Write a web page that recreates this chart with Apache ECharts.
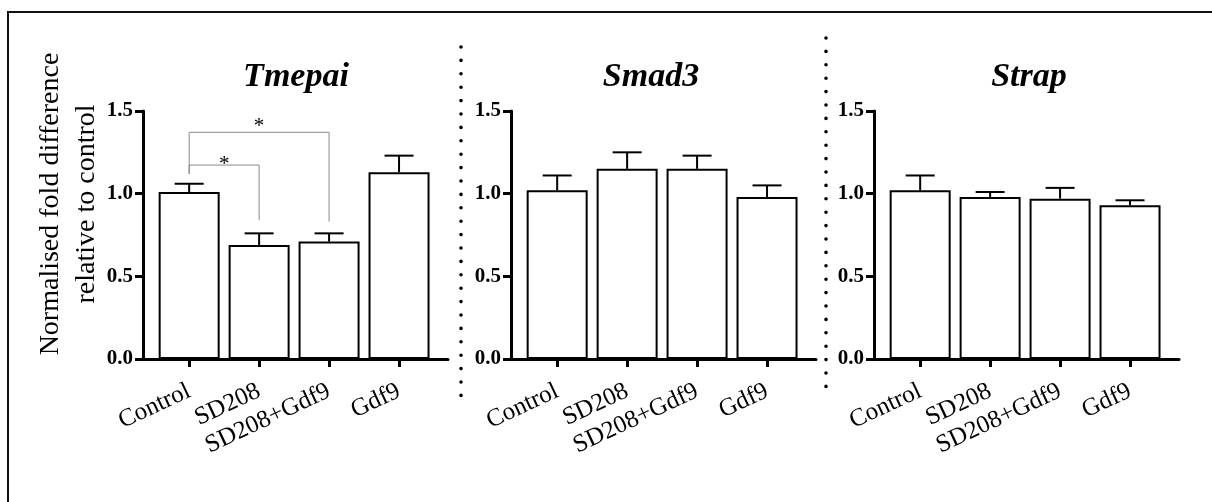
<!DOCTYPE html>
<html>
<head>
<meta charset="utf-8">
<title>Tmepai / Smad3 / Strap expression</title>
<script src="https://cdn.jsdelivr.net/npm/echarts@6/dist/echarts.min.js"></script>
<style>
  html, body { margin: 0; padding: 0; background: #fff; }
  #chart { width: 1212px; height: 502px; }
</style>
</head>
<body>
<div id="chart"></div>
<script>
// Treatment groups (x axis) and gene panels
const categories = ['Control', 'SD208', 'SD208+Gdf9', 'Gdf9'];
const genes = ['Tmepai', 'Smad3', 'Strap'];

// Normalised fold difference (mean) and SEM for each gene
const tmepaiMean = [1.01, 0.69, 0.71, 1.13];
const tmepaiSem  = [0.05, 0.07, 0.05, 0.10];
const smad3Mean  = [1.02, 1.15, 1.15, 0.98];
const smad3Sem   = [0.09, 0.10, 0.08, 0.07];
const strapMean  = [1.02, 0.98, 0.97, 0.93];
const strapSem   = [0.09, 0.03, 0.065, 0.03];

// Y axis tick values
const yTicks = [0, 0.5, 1.0, 1.5];

// Significance brackets on the Tmepai panel:
// [fromGroup, toGroup, barLevel, leftDrop, rightDrop, starLevel, mark]
const tmepaiBrackets = [
  [0, 1, 1.173, 1.119, 0.841, 1.203, '*'],
  [0, 2, 1.371, 1.119, 0.831, 1.433, '*']
];

const means = [tmepaiMean, smad3Mean, strapMean];
const sems = [tmepaiSem, smad3Sem, strapSem];

const SERIF = '"Liberation Serif", "Times New Roman", "DejaVu Serif", serif';
const panelLeft = [143, 511, 874];
const titleX = [296, 651, 1029];
const tickIdx = categories.map((c, i) => i);

const chart = echarts.init(document.getElementById('chart'));

const grid = panelLeft.map(l => ({ left: l, top: 111, width: 305, height: 248 }));

const xAxis = panelLeft.map((l, i) => ({
  type: 'value',
  gridIndex: i,
  min: -0.66,
  max: 3.7,
  splitLine: { show: false },
  axisLine: { show: true, onZero: false, lineStyle: { color: '#000', width: 3 } },
  axisTick: {
    show: true, customValues: tickIdx, length: 8,
    lineStyle: { color: '#000', width: 3 }
  },
  axisLabel: {
    customValues: tickIdx,
    formatter: v => categories[Math.round(v)],
    rotate: 25,
    margin: 31,
    color: '#000',
    fontFamily: SERIF,
    fontSize: 25
  }
}));

const yAxis = panelLeft.map((l, i) => ({
  type: 'value',
  gridIndex: i,
  min: yTicks[0],
  max: yTicks[yTicks.length - 1],
  interval: yTicks[1] - yTicks[0],
  splitLine: { show: false },
  axisLine: { show: true, onZero: false, lineStyle: { color: '#000', width: 3 } },
  axisTick: { show: true, length: 8, lineStyle: { color: '#000', width: 3 } },
  axisLabel: {
    formatter: v => v.toFixed(1),
    margin: 10,
    color: '#000',
    fontFamily: SERIF,
    fontWeight: 'bold',
    fontSize: 21
  }
}));

const series = [];
means.forEach((m, i) => {
  // white bars with black outline
  series.push({
    type: 'bar',
    xAxisIndex: i,
    yAxisIndex: i,
    barWidth: 61,
    data: m.map((v, k) => [k, v]),
    itemStyle: { color: '#fff', borderColor: '#000', borderWidth: 2 },
    z: 2
  });
  // upper SEM whiskers with caps
  series.push({
    type: 'custom',
    xAxisIndex: i,
    yAxisIndex: i,
    data: m.map((v, k) => [k, v, v + sems[i][k]]),
    encode: { x: 0, y: [1, 2] },
    clip: false,
    z: 3,
    renderItem: (params, api) => {
      const base = api.coord([api.value(0), api.value(1)]);
      const top = api.coord([api.value(0), api.value(2)]);
      const style = { stroke: '#000', lineWidth: 2 };
      return {
        type: 'group',
        children: [
          { type: 'line', shape: { x1: base[0], y1: base[1], x2: top[0], y2: top[1] }, style },
          { type: 'line', shape: { x1: top[0] - 14.5, y1: top[1], x2: top[0] + 14.5, y2: top[1] }, style }
        ]
      };
    }
  });
});

// significance brackets
series.push({
  type: 'custom',
  xAxisIndex: 0,
  yAxisIndex: 0,
  data: tmepaiBrackets,
  encode: { x: [0, 1], y: [2, 5] },
  clip: false,
  z: 4,
  renderItem: (params, api) => {
    const a = api.value(0), b = api.value(1);
    const lvl = api.value(2);
    const p1 = api.coord([a, api.value(3)]);
    const p2 = api.coord([a, lvl]);
    const p3 = api.coord([b, lvl]);
    const p4 = api.coord([b, api.value(4)]);
    const star = api.coord([(a + b) / 2, api.value(5)]);
    return {
      type: 'group',
      children: [
        {
          type: 'polyline',
          shape: { points: [p1, p2, p3, p4] },
          style: { stroke: '#8a8a8a', lineWidth: 1, fill: null }
        },
        {
          type: 'text',
          x: star[0], y: star[1] + 4,
          style: {
            text: tmepaiBrackets[params.dataIndex][6],
            fontFamily: SERIF, fontSize: 21, fill: '#000',
            align: 'center', verticalAlign: 'middle'
          }
        }
      ]
    };
  }
});

const graphic = [
  // frame: left and top edges
  {
    type: 'polyline',
    shape: { points: [[8, 502], [8, 12], [1212, 12]] },
    style: { stroke: '#111', lineWidth: 2, fill: null }
  },
  // dotted panel separators
  {
    type: 'line',
    shape: { x1: 461, y1: 47, x2: 461, y2: 399 },
    style: { stroke: '#000', lineWidth: 3.6, lineDash: [0, 13.4], lineCap: 'round' }
  },
  {
    type: 'line',
    shape: { x1: 826, y1: 38, x2: 826, y2: 391 },
    style: { stroke: '#000', lineWidth: 3.6, lineDash: [0, 13.4], lineCap: 'round' }
  },
  // shared y axis title
  {
    type: 'text',
    x: 50.5, y: 204, rotation: Math.PI / 2,
    style: {
      text: 'Normalised fold difference',
      fontFamily: SERIF, fontSize: 28, fill: '#000',
      align: 'center', verticalAlign: 'middle'
    }
  },
  {
    type: 'text',
    x: 86.5, y: 204, rotation: Math.PI / 2,
    style: {
      text: 'relative to control',
      fontFamily: SERIF, fontSize: 28, fill: '#000',
      align: 'center', verticalAlign: 'middle'
    }
  }
].concat(genes.map((g, i) => ({
  type: 'text',
  x: titleX[i], y: 77,
  style: {
    text: g,
    fontFamily: SERIF, fontSize: 34, fontWeight: 'bold', fontStyle: 'italic',
    fill: '#000', align: 'center', verticalAlign: 'middle'
  }
})));

chart.setOption({
  backgroundColor: '#fff',
  animation: false,
  grid,
  xAxis,
  yAxis,
  series,
  graphic
});
</script>
</body>
</html>
